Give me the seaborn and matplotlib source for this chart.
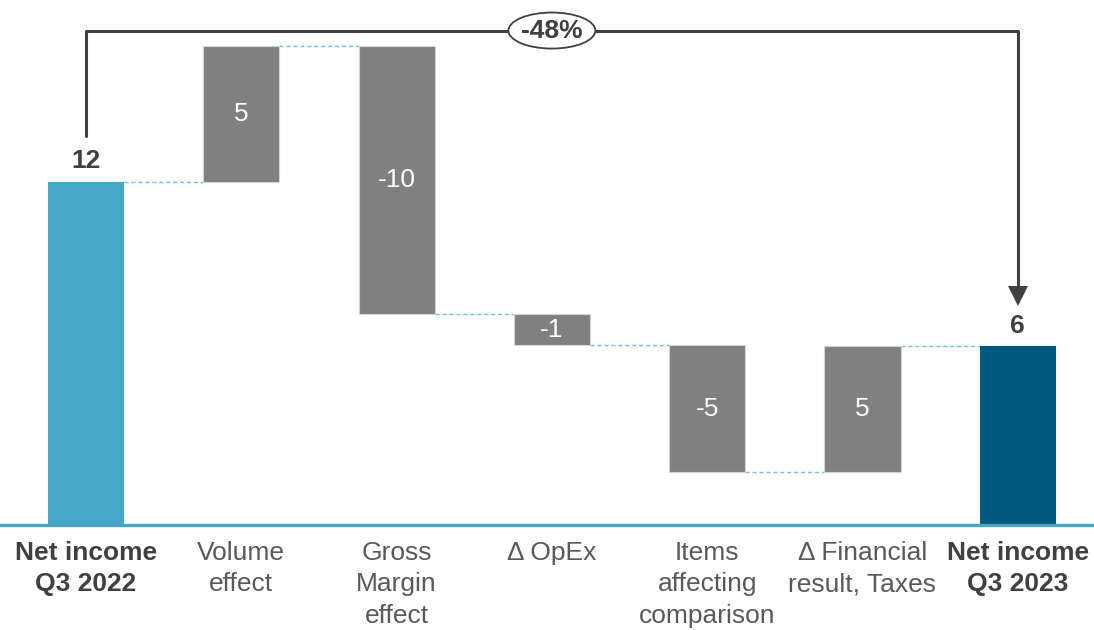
import numpy as np
import pandas as pd
import matplotlib
matplotlib.use("Agg")
import matplotlib.pyplot as plt
from matplotlib.patches import Ellipse
import seaborn as sns

# ---- data ----
categories = ["Net income\nQ3 2022", "Volume\neffect", "Gross\nMargin\neffect", "\u0394 OpEx",
              "Items\naffecting\ncomparison", "\u0394 Financial\nresult, Taxes", "Net income\nQ3 2023"]
start_value = 12.4
deltas = [4.9, -9.7, -1.1, -4.6, 4.55]
end_value = 6.45
bold_labels = [True, False, False, False, False, False, True]

# ---- styling ----
sns.set_theme(style="white")
plt.rcParams["font.family"] = ["Liberation Sans", "DejaVu Sans"]

C_START = "#44A8C7"
C_END = "#005A80"
C_GREY = "#808080"
C_LINE = "#404040"
C_CONN = "#6EC3DE"
C_AXIS = "#43A8C8"
FS = 19

# waterfall geometry from data
levels = [start_value]
for d in deltas:
    levels.append(levels[-1] + d)
levels.append(end_value)
heights = [start_value] + [abs(d) for d in deltas] + [end_value]
bottoms = [0.0] + [min(levels[i], levels[i + 1]) for i in range(len(deltas))] + [0.0]
values = [start_value] + deltas + [end_value]
colors = [C_START] + [C_GREY] * len(deltas) + [C_END]

df = pd.DataFrame({"category": categories, "height": heights})

fig = plt.figure(figsize=(10.94, 6.30), dpi=100)
ax = fig.add_axes([0, 0, 1, 1])

W = 0.49
sns.barplot(data=df, x="category", y="height", bottom=bottoms, width=W,
            color=C_GREY, saturation=1, errorbar=None, ax=ax, zorder=2)
for i, p in enumerate(ax.patches):
    p.set_facecolor(colors[i])
    if colors[i] == C_GREY:
        p.set_edgecolor("#D4D4D4")
        p.set_linewidth(0.8)
    else:
        p.set_edgecolor("none")

scale = 27.7  # px per unit
ax.set_ylim((525 - 630) / scale, 525 / scale)
ax.set_xlim((0 - 86) / 155.3, (1094 - 86) / 155.3)
ax.set_axis_off()

# baseline
ax.axhline(0, color=C_AXIS, lw=2.4, zorder=3)

# connectors
conn_levels = [start_value] + levels[1:len(deltas) + 1]
for i, lv in enumerate(conn_levels):
    ax.plot([i + W / 2, i + 1 - W / 2], [lv, lv], color=C_CONN, lw=1.0,
            ls=(0, (3, 2)), zorder=1)

# value labels
n = len(categories)
for i in range(n):
    lab = f"{values[i]:.0f}"
    if i == 0 or i == n - 1:
        ax.text(i, heights[i] + 0.3, lab, ha="center", va="bottom", fontsize=FS,
                fontweight="bold", color=C_LINE)
    else:
        ax.text(i, bottoms[i] + heights[i] / 2, lab, ha="center", va="center",
                fontsize=FS, color="white", zorder=4)

# category labels
for i, cat in enumerate(categories):
    ax.text(i, -0.58, cat, ha="center", va="top", fontsize=FS, linespacing=1.38,
            fontweight="bold" if bold_labels[i] else "normal",
            color="#404040" if bold_labels[i] else "#595959")

# bracket with change
top_y = max(levels) + 0.55
tip_y = end_value + 1.45
ax.plot([0, 0, n - 1, n - 1], [start_value + 1.65, top_y, top_y, tip_y + 0.5],
        color=C_LINE, lw=2.2, solid_joinstyle="round", zorder=3)
ax.plot([n - 1], [tip_y + 0.38], marker="v", ms=15, color=C_LINE,
        markeredgewidth=0, zorder=3)
ell = Ellipse(((n - 1) / 2, top_y), width=0.56, height=1.3, facecolor="white",
              edgecolor=C_LINE, lw=1.3, zorder=4)
ax.add_patch(ell)
pct = (end_value / start_value - 1) * 100
ax.text((n - 1) / 2, top_y, f"{pct:.0f}%", ha="center", va="center", fontsize=FS,
        fontweight="bold", color=C_LINE, zorder=5)

fig.savefig("out.png", dpi=100)
